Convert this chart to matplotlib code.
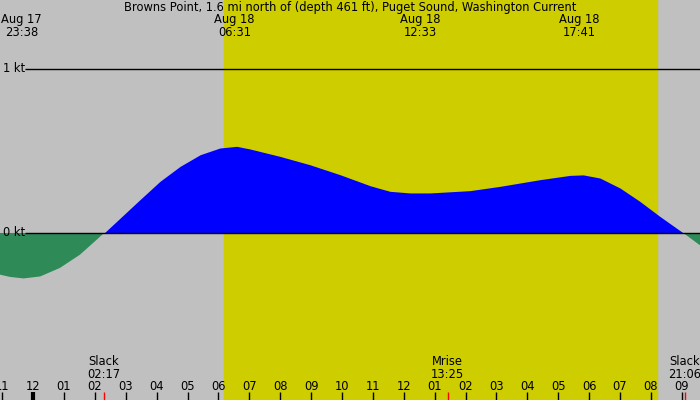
import matplotlib
matplotlib.use("Agg")
import matplotlib.pyplot as plt
import numpy as np

# hours since Aug 18 00:00, current speed in knots (flood +, ebb -)
jam = [-1.07, -0.74, -0.31, 0.23, 0.87, 1.52, 2.06, 2.30, 2.82, 3.46,
       4.11, 4.76, 5.41, 6.05, 6.59, 7.02, 7.99, 8.96, 9.94, 10.91,
       11.55, 12.20, 12.85, 14.14, 15.11, 16.41, 17.38, 17.81, 18.35,
       19.00, 19.64, 20.29, 21.05, 21.59]
kecepatan = [-0.254, -0.268, -0.277, -0.265, -0.213, -0.132, -0.041, 0.0,
             0.091, 0.203, 0.315, 0.406, 0.477, 0.518, 0.528, 0.512, 0.467,
             0.416, 0.355, 0.288, 0.254, 0.244, 0.244, 0.258, 0.284, 0.325,
             0.351, 0.354, 0.335, 0.274, 0.193, 0.101, 0.0, -0.075]

judul = "Browns Point, 1.6 mi north of (depth 461 ft), Puget Sound, Washington Current"

# max/min current events (top labels)
puncak_jam = [-0.367, 6.517, 12.55, 17.683]
puncak_label = ["Aug 17\n23:38", "Aug 18\n06:31", "Aug 18\n12:33", "Aug 18\n17:41"]

# events at bottom
event_jam = [2.283, 13.417, 21.1]
event_label = ["Slack\n02:17", "Mrise\n13:25", "Slack\n21:06"]

sunrise, sunset = 6.18, 20.19
jam_tick = list(range(-1, 22))

x_min, x_max = -1.07, 21.59
y_min, y_max = -1.018, 1.42
fs = 8.3

fig = plt.figure(figsize=(7, 4), dpi=100)
fig.patch.set_facecolor("#c0c0c0")
ax = fig.add_axes([0, 0, 1, 1])
ax.set_xlim(x_min, x_max)
ax.set_ylim(y_min, y_max)
ax.axis("off")

ax.axvspan(sunrise, sunset, color="#cdcd00", zorder=1)

t = np.array(jam)
v = np.array(kecepatan)
ax.fill_between(t, v, 0, where=v >= 0, interpolate=True, color="#0000ff",
                lw=0, zorder=2)
ax.fill_between(t, v, 0, where=v <= 0, interpolate=True, color="#2e8b57",
                lw=0, zorder=2)

x_garis = x_min + 25 / 700 * (x_max - x_min)
ax.hlines([0, 1], x_garis, x_max, color="black", lw=1, zorder=3)
ax.text(3 / 700, 1 - 233 / 400, "0 kt", transform=ax.transAxes,
        ha="left", va="center", fontsize=fs, zorder=4)
ax.text(3 / 700, 1 - 69 / 400, "1 kt", transform=ax.transAxes,
        ha="left", va="center", fontsize=fs, zorder=4)

ax.text(0.5, 1 - 7.5 / 400, judul, transform=ax.transAxes, ha="center",
        va="center", fontsize=fs, zorder=4)

trans = ax.get_xaxis_transform()
for j, lbl in zip(puncak_jam, puncak_label):
    ax.text(j, 1 - 26 / 400, lbl, transform=trans, ha="center", va="center",
            fontsize=fs, linespacing=0.95, zorder=4)

for j, lbl in zip(event_jam, event_label):
    ax.text(j, 1 - 368 / 400, lbl, transform=trans, ha="center", va="center",
            fontsize=fs, linespacing=0.95, zorder=4)
    ax.vlines(j, 0, 8 / 400, transform=trans, color="red", lw=1, zorder=5)

for h in jam_tick:
    lbl = f"{(h % 12) or 12:02d}"
    ax.text(h, 1 - 386 / 400, lbl, transform=trans, ha="center",
            va="center", fontsize=fs, zorder=4)
    lw = 3 if h == 0 else 1
    ax.vlines(h, 0, 8 / 400, transform=trans, color="black", lw=lw, zorder=4)

fig.savefig("out.png", dpi=100, facecolor=fig.get_facecolor())
